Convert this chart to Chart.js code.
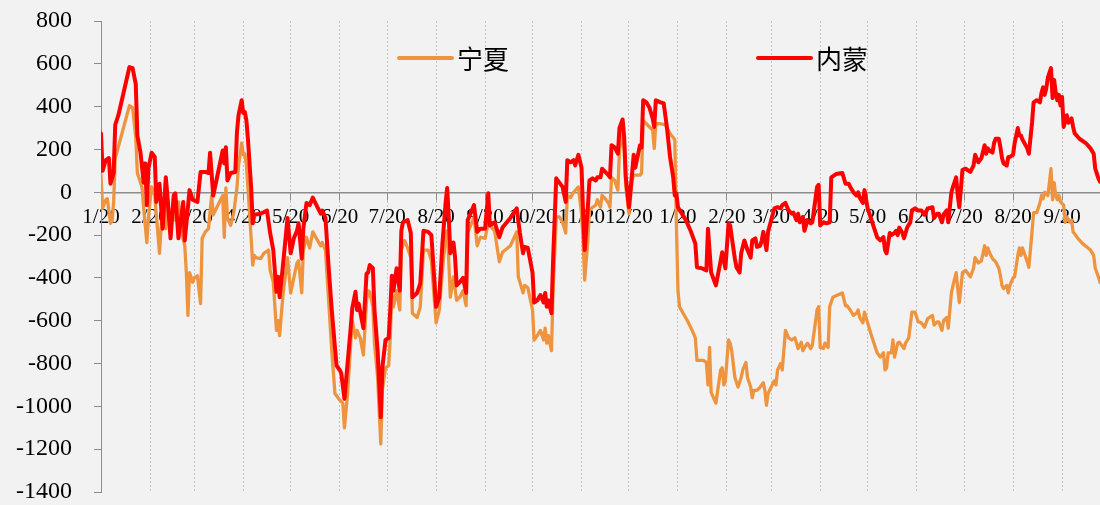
<!DOCTYPE html>
<html lang="zh">
<head>
    <meta charset="UTF-8">
    <title>宁夏 / 内蒙</title>
    <style>
        html, body {
            margin: 0;
            padding: 0;
            background: #f2f2f2;
        }
        #chartBox {
            width: 1100px;
            height: 505px;
        }
    </style>
</head>
<body>
    <div id="chartBox">
        <canvas id="spreadChart" width="1100" height="505"></canvas>
    </div>

<script src="https://cdn.jsdelivr.net/npm/chart.js"></script>
<script>
// x values are days counted from 1/20 of the first year
const monthTicks = [0, 31, 59, 90, 120, 151, 181, 212, 243, 273, 304, 334,
                    365, 396, 424, 455, 485, 516, 546, 577, 608];
const monthLabels = ['1/20', '2/20', '3/20', '4/20', '5/20', '6/20', '7/20', '8/20', '9/20', '10/20', '11/20', '12/20',
                     '1/20', '2/20', '3/20', '4/20', '5/20', '6/20', '7/20', '8/20', '9/20'];

// 宁夏
const nxDays = [
  0, 1, 3, 4, 6, 7, 8, 9, 10, 18, 20, 22, 23, 25, 26, 27, 29, 30, 31, 32, 34, 35, 37, 38, 39, 41, 42, 44, 46, 47,
  49, 51, 53, 54, 55, 56, 58, 59, 61, 63, 64, 66, 68, 70, 71, 73, 77, 78, 79, 80, 82, 84, 86, 87, 89, 90, 91, 92, 94, 96,
  97, 98, 101, 103, 106, 107, 109, 111, 112, 113, 115, 118, 120, 122, 124, 125, 127, 128, 130, 132, 134, 137, 139, 140, 142, 144, 146, 148, 151, 153,
  154, 156, 158, 159, 161, 162, 164, 166, 168, 169, 170, 172, 173, 175, 177, 178, 180, 182, 183, 184, 185, 187, 189, 190, 192, 194, 196, 197, 200, 202,
  204, 207, 209, 212, 214, 216, 218, 219, 220, 221, 223, 225, 227, 229, 231, 232, 236, 238, 240, 243, 245, 246, 249, 252, 254, 259, 263, 264, 267, 268,
  270, 273, 274, 276, 278, 280, 281, 282, 283, 285, 286, 288, 290, 292, 294, 295, 297, 299, 302, 304, 305, 306, 308, 309, 311, 313, 314, 316, 317, 319,
  321, 322, 323, 325, 327, 328, 330, 331, 332, 334, 336, 337, 341, 342, 343, 345, 347, 349, 350, 351, 354, 357, 360, 363, 364, 365, 366, 371, 374, 376,
  377, 381, 383, 384, 385, 386, 389, 392, 393, 394, 395, 397, 398, 399, 401, 403, 405, 406, 408, 409, 411, 412, 413, 415, 417, 419, 420, 421, 422, 424,
  426, 427, 428, 430, 431, 433, 435, 437, 439, 440, 441, 443, 444, 446, 447, 449, 450, 453, 454, 455, 457, 458, 460, 461, 463, 466, 469, 471, 472, 474,
  476, 478, 479, 480, 482, 483, 485, 487, 489, 491, 493, 495, 496, 497, 498, 500, 501, 502, 504, 505, 508, 509, 511, 512, 513, 515, 517, 519, 521, 523,
  526, 527, 529, 530, 532, 533, 535, 536, 538, 539, 541, 542, 543, 545, 547, 550, 552, 553, 555, 557, 559, 560, 561, 562, 564, 566, 568, 569, 570, 571,
  573, 574, 575, 577, 578, 580, 581, 582, 583, 586, 587, 589, 590, 592, 594, 595, 596, 597, 599, 600, 601, 602, 603, 604, 605, 606, 607, 609, 610, 611,
  613, 614, 615, 618, 621, 626, 628, 629, 631, 632
];
const nxValues = [
  80, -75, -35, -30, -145, -135, -45, 160, 185, 405, 395, 255, 90, 45, 20, -75, -235, -120, -45, 25, -15, -105, -285, -170, -95, -170, -30, -170, -95, -130,
  -45, -185, -250, -375, -575, -375, -420, -400, -390, -520, -215, -185, -170, -15, -105, -75, -15, -210, 20, -120, -155, -95, 20, 125, 230, 175, 180, 125, -95, -340,
  -295, -305, -310, -285, -270, -365, -420, -645, -600, -670, -490, -305, -470, -400, -330, -320, -470, -270, -210, -260, -185, -225, -250, -235, -270, -505, -740, -940, -970, -985,
  -1100, -940, -705, -600, -680, -645, -680, -760, -505, -460, -465, -535, -705, -865, -1175, -925, -820, -810, -680, -470, -535, -460, -550, -270, -225, -260, -305, -565, -585, -535,
  -270, -270, -320, -610, -550, -365, -210, -180, -320, -490, -395, -505, -490, -460, -530, -190, -115, -250, -210, -215, -140, -155, -180, -325, -280, -250, -185, -395, -470, -435,
  -445, -550, -690, -670, -645, -690, -635, -705, -670, -740, -460, -115, -115, -140, -190, -15, -25, 0, 25, -100, -225, -410, -225, -85, -70, -60, -35, -70, -15, -30,
  -50, -70, 70, 55, 10, 195, 290, 195, 25, -100, 55, 80, 80, 90, 335, 320, 305, 290, 205, 320, 320, 315, 275, 245, -145, -460, -535, -600, -645, -680,
  -785, -785, -795, -900, -725, -935, -985, -830, -820, -900, -880, -690, -705, -740, -865, -910, -865, -830, -795, -865, -910, -960, -925, -925, -910, -890, -925, -995, -940, -910,
  -880, -900, -830, -800, -830, -645, -680, -690, -680, -705, -730, -700, -740, -715, -705, -730, -715, -550, -535, -725, -730, -705, -725, -535, -490, -480, -470, -530, -530, -550,
  -575, -565, -550, -585, -610, -560, -610, -660, -705, -750, -770, -750, -830, -820, -750, -750, -690, -770, -705, -700, -730, -705, -680, -620, -560, -560, -605, -610, -630, -590,
  -575, -620, -605, -605, -645, -600, -585, -635, -470, -435, -375, -450, -515, -375, -365, -395, -355, -305, -330, -320, -250, -295, -260, -280, -310, -325, -355, -390, -435, -450,
  -435, -470, -435, -400, -395, -295, -260, -295, -260, -325, -350, -185, -95, -95, -50, -15, -30, 0, -15, 45, 110, -35, 45, -15, -35, -15, -45, -60, -140, -115,
  -140, -130, -185, -215, -240, -270, -295, -355, -395, -420
];

// 内蒙
const nmDays = [
  0, 1, 3, 5, 6, 8, 9, 11, 18, 20, 22, 23, 25, 27, 28, 29, 30, 32, 34, 35, 37, 39, 41, 42, 44, 46, 47, 49, 52, 53,
  56, 58, 61, 63, 66, 68, 69, 71, 73, 77, 78, 79, 80, 82, 85, 86, 87, 89, 90, 91, 92, 93, 95, 96, 97, 101, 105, 107, 109, 111,
  112, 113, 115, 118, 120, 122, 124, 125, 127, 128, 130, 132, 134, 137, 139, 140, 142, 144, 146, 148, 149, 151, 152, 154, 156, 158, 159, 161, 162, 163,
  166, 168, 169, 170, 172, 173, 175, 177, 178, 180, 182, 183, 184, 185, 187, 189, 190, 191, 194, 196, 197, 200, 202, 204, 207, 209, 212, 214, 216, 218,
  219, 220, 221, 223, 224, 225, 227, 229, 231, 232, 236, 238, 240, 243, 245, 246, 249, 252, 254, 259, 263, 265, 267, 268, 270, 273, 274, 276, 278, 280,
  281, 282, 283, 285, 286, 288, 290, 292, 294, 295, 297, 299, 300, 302, 304, 305, 306, 308, 309, 311, 313, 314, 316, 317, 319, 321, 322, 323, 325, 327,
  328, 330, 331, 332, 334, 336, 337, 338, 340, 341, 342, 343, 345, 347, 349, 350, 351, 354, 356, 358, 360, 362, 363, 364, 365, 370, 373, 376, 377, 380,
  383, 384, 386, 389, 392, 393, 395, 397, 398, 401, 402, 404, 405, 407, 409, 411, 412, 414, 415, 417, 418, 419, 421, 422, 424, 426, 428, 430, 431, 433,
  435, 437, 438, 440, 441, 442, 444, 445, 447, 449, 450, 453, 454, 455, 457, 459, 461, 462, 465, 469, 471, 473, 474, 476, 478, 479, 480, 482, 483, 485,
  487, 489, 491, 493, 495, 496, 497, 499, 500, 502, 503, 504, 505, 507, 508, 510, 512, 513, 515, 517, 519, 521, 523, 526, 527, 529, 530, 532, 533, 535,
  536, 538, 539, 541, 542, 543, 545, 547, 550, 552, 553, 555, 557, 559, 560, 561, 562, 564, 565, 566, 568, 569, 570, 571, 573, 574, 575, 577, 578, 580,
  581, 582, 583, 586, 587, 589, 590, 592, 594, 595, 596, 597, 598, 599, 601, 602, 603, 604, 605, 606, 607, 608, 609, 611, 612, 614, 615, 616, 619, 623,
  626, 628, 629, 631, 632
];
const nmValues = [
  275, 100, 150, 160, 40, 90, 315, 360, 585, 580, 505, 265, 185, 45, 135, -60, 110, 185, 165, -45, 40, -170, 70, -15, -215, -15, -5, -215, -45, -225,
  10, -35, -45, 95, 95, 90, 185, -15, 55, 195, 135, 210, 55, 90, 95, 280, 360, 430, 370, 375, 335, 245, 20, -145, -105, -100, -85, -190, -270, -465,
  -395, -490, -350, -120, -285, -215, -180, -145, -310, -170, -50, -60, -25, -70, -100, -85, -120, -350, -550, -725, -810, -830, -845, -965, -800, -630, -540, -465, -550, -520,
  -635, -380, -375, -340, -355, -550, -740, -1050, -820, -690, -680, -550, -390, -460, -355, -460, -180, -140, -130, -190, -490, -470, -425, -180, -185, -200, -535, -490, -240, -50,
  20, -115, -285, -235, -305, -435, -420, -400, -470, -130, -60, -185, -170, -170, -5, -155, -140, -210, -165, -120, -75, -190, -285, -255, -260, -375, -515, -505, -480, -515,
  -470, -535, -505, -565, -320, 65, 45, 25, -45, 150, 140, 150, 125, 175, 115, -100, -270, -70, 55, 65, 55, 70, 70, 110, 95, 80, 70, 220, 210, 180,
  300, 340, 255, 70, -70, 90, 175, 115, 185, 220, 210, 430, 420, 395, 345, 305, 430, 420, 415, 305, 165, 70, -15, -5, -70, -130, -180, -240, -350, -355,
  -365, -170, -375, -435, -320, -280, -355, -145, -155, -310, -350, -375, -285, -225, -270, -305, -225, -215, -255, -250, -225, -185, -270, -185, -130, -75, -70, -75, -60, -50,
  -85, -100, -95, -130, -100, -140, -115, -180, -130, -145, -140, 25, 35, -155, -140, -145, -140, 70, 85, 90, 40, 40, 25, 0, -15, 0, -25, -50, 10, -75,
  -120, -165, -210, -225, -210, -270, -285, -190, -200, -190, -180, -200, -165, -190, -215, -165, -140, -85, -75, -85, -85, -105, -75, -70, -120, -100, -100, -140, -105, -85,
  -140, 0, 25, 70, -15, -70, 105, 110, 95, 125, 175, 140, 160, 220, 180, 205, 195, 185, 230, 250, 250, 210, 160, 135, 125, 165, 165, 175, 230, 300,
  265, 265, 245, 205, 180, 325, 420, 430, 420, 465, 490, 455, 485, 535, 580, 440, 525, 465, 430, 455, 405, 445, 305, 360, 325, 345, 305, 275, 250, 230,
  205, 180, 110, 65, 50
];

const nxColor = '#ee943f';
const nmColor = '#ff0000';
const axisGray = '#8c8c8c';

function toPoints(days, values) {
  return days.map((d, i) => ({ x: d, y: values[i] }));
}

// Plain grey page behind everything
const backgroundPlugin = {
  id: 'pageBackground',
  beforeDraw(chart) {
    const ctx = chart.ctx;
    ctx.save();
    ctx.fillStyle = '#f2f2f2';
    ctx.fillRect(0, 0, chart.width, chart.height);
    ctx.restore();
  }
};

// Legend sitting inside the plot, one item per dataset
const inlineLegend = {
  id: 'inlineLegend',
  afterDraw(chart, args, opts) {
    const ctx = chart.ctx;
    ctx.save();
    chart.data.datasets.forEach((ds, i) => {
      const pos = opts.items[i];
      ctx.strokeStyle = ds.borderColor;
      ctx.lineWidth = 4;
      ctx.lineCap = 'round';
      ctx.beginPath();
      ctx.moveTo(pos.x, pos.y);
      ctx.lineTo(pos.x + opts.lineLength, pos.y);
      ctx.stroke();

      ctx.fillStyle = '#000';
      ctx.font = opts.font;
      ctx.textBaseline = 'middle';
      ctx.textAlign = 'left';
      ctx.fillText(ds.label, pos.x + opts.lineLength + 5, pos.y + 1);
    });
    ctx.restore();
  }
};

const ctx = document.getElementById('spreadChart').getContext('2d');
new Chart(ctx, {
  type: 'line',
  data: {
    datasets: [
      {
        label: '宁夏',
        data: toPoints(nxDays, nxValues),
        borderColor: nxColor,
        backgroundColor: nxColor,
        borderWidth: 3.3,
        pointRadius: 0,
        tension: 0,
        borderJoinStyle: 'round',
        borderCapStyle: 'round',
        order: 2
      },
      {
        label: '内蒙',
        data: toPoints(nmDays, nmValues),
        borderColor: nmColor,
        backgroundColor: nmColor,
        borderWidth: 4,
        pointRadius: 0,
        tension: 0,
        borderJoinStyle: 'round',
        borderCapStyle: 'round',
        order: 1
      }
    ]
  },
  options: {
    responsive: false,
    animation: false,
    layout: {
      padding: { top: 21, bottom: 13, left: 0, right: 0 }
    },
    plugins: {
      legend: { display: false },
      tooltip: { enabled: false },
      inlineLegend: {
        items: [{ x: 399, y: 58 }, { x: 758, y: 58 }],
        lineLength: 53,
        font: '26px "Noto Sans CJK SC", "Noto Sans", sans-serif'
      }
    },
    scales: {
      x: {
        type: 'linear',
        position: { y: 0 },
        min: 0,
        max: 632,
        afterBuildTicks: (scale) => {
          scale.ticks = monthTicks.map(v => ({ value: v }));
        },
        ticks: {
          autoSkip: false,
          maxRotation: 0,
          minRotation: 0,
          padding: 6,
          color: '#000',
          font: { family: '"Liberation Serif", "Times New Roman", serif', size: 21 },
          callback: (value, index) => monthLabels[index]
        },
        grid: {
          color: '#c3c3c3',
          lineWidth: 1,
          tickLength: 7,
          tickColor: axisGray,
          tickWidth: 1
        },
        border: {
          display: true,
          color: axisGray,
          width: 1.5,
          dash: [2, 2]
        }
      },
      y: {
        min: -1400,
        max: 800,
        afterFit: (scale) => {
          // fixed axis width; keep the big label gap from pushing the plot inwards
          scale.width = 101;
          scale.paddingTop = 12;
          scale.paddingBottom = 10;
        },
        ticks: {
          stepSize: 200,
          padding: 22,
          color: '#000',
          font: { family: '"Liberation Serif", "Times New Roman", serif', size: 24 },
          callback: (value) => String(value)
        },
        grid: {
          drawOnChartArea: false,
          tickLength: 7,
          tickColor: axisGray
        },
        border: {
          display: true,
          color: axisGray,
          width: 1
        }
      }
    }
  },
  plugins: [backgroundPlugin, inlineLegend]
});
</script>
</body>
</html>
